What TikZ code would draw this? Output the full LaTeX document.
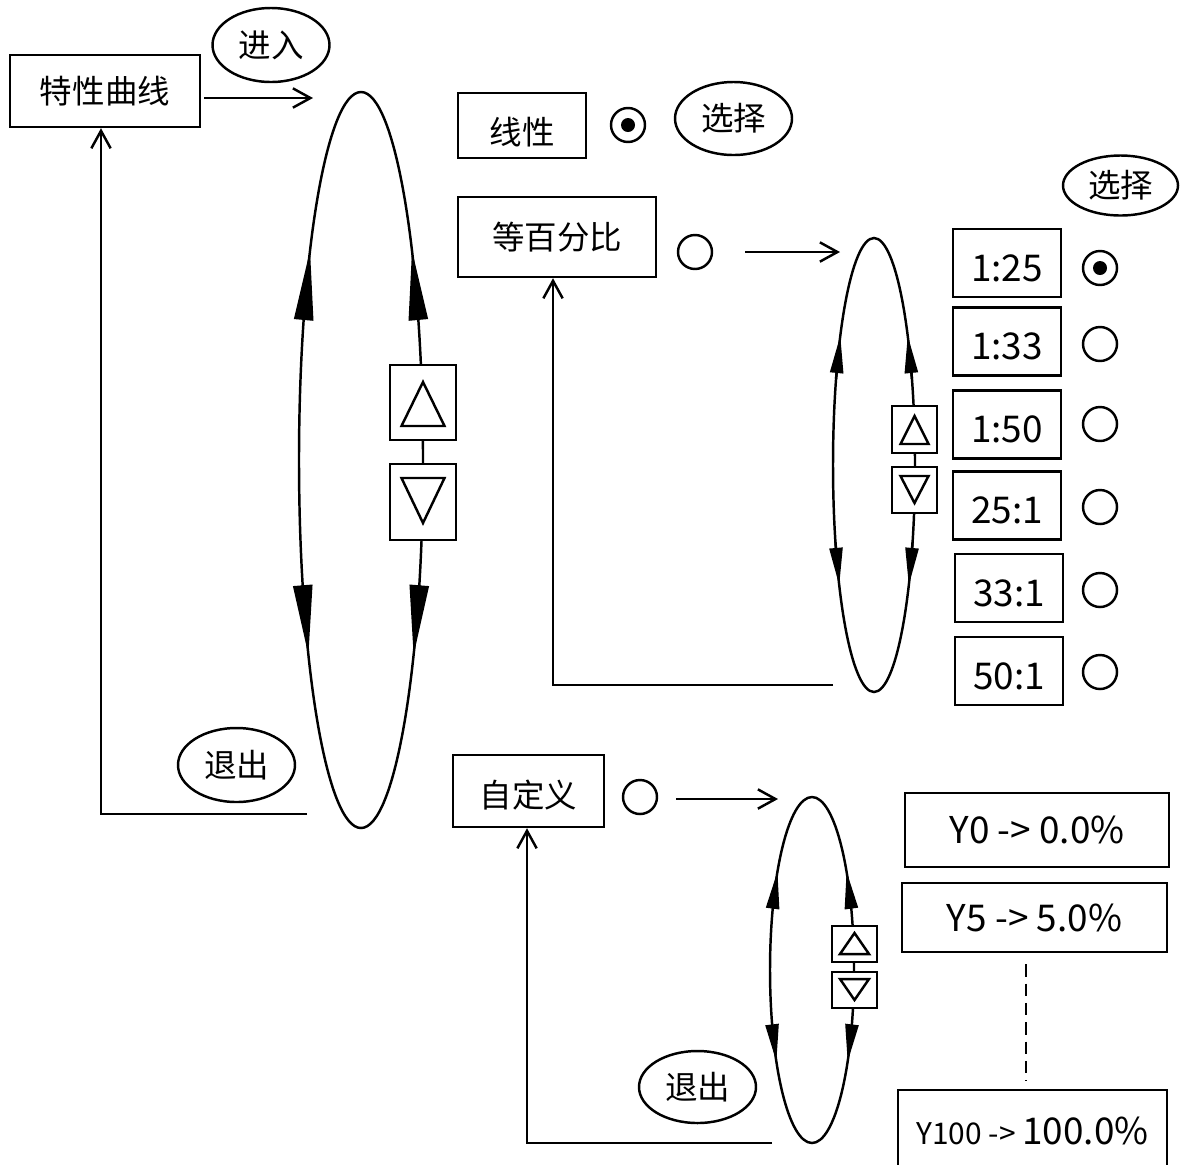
\documentclass[tikz,border=0pt]{standalone}
\usepackage{fontspec}
\usetikzlibrary{arrows.meta,positioning,calc,shapes.geometric}
\newfontfamily\cjk{Noto Sans CJK SC}
\newcommand{\px}{0.02cm}
% four heads on a ring: centre, x radius, y radius, tip style
\newcommand{\ringtips}[4]{%
  \draw[#4] ($(#1)+(-0.925*#2,-0.38*#3)$) -- ($(#1)+(-0.822*#2,-0.57*#3)$);
  \draw[#4] ($(#1)+(0.925*#2,-0.38*#3)$) -- ($(#1)+(0.822*#2,-0.57*#3)$);
  \draw[#4] ($(#1)+(-0.94*#2,0.34*#3)$) -- ($(#1)+(-0.848*#2,0.53*#3)$);
  \draw[#4] ($(#1)+(0.94*#2,0.34*#3)$) -- ($(#1)+(0.848*#2,0.53*#3)$);}
% triangle in a key: key, apex offset, base offset, half width
\newcommand{\keymark}[4]{%
  \draw ($(#1)+(0,#2)$) -- ($(#1)+(#4,#3)$) -- ($(#1)+(-#4,#3)$) -- cycle;}

\begin{document}
\begin{tikzpicture}[x=\px, y=-\px, line width=1.4pt, font=\cjk\fontsize{18.5}{21}\selectfont]
  \tikzstyle{box}=[draw,rectangle,inner sep=0pt]
  \tikzstyle{low}=[text height=#1,text depth=0pt]
  \tikzstyle{ratio}=[box,minimum width=108*\px,minimum height=68*\px,font=\cjk\fontsize{21}{24}\selectfont,low=21pt]
  \tikzstyle{ybox}=[box,font=\cjk\fontsize{21}{24}\selectfont]
  \tikzstyle{bubble}=[draw,ellipse,minimum width=117*\px,minimum height=74*\px,inner sep=0pt]
  \tikzstyle{radio}=[draw,circle,minimum size=34*\px,inner sep=0pt]
  \tikzstyle{key}=[draw,fill=white,rectangle,inner sep=0pt]
  \tikzstyle{go}=[-{Straight Barb[length=10pt,width=11pt]}]
  \tikzstyle{bigtip}=[-{Triangle[length=1.4cm,width=0.38cm]}]
  \tikzstyle{smalltip}=[-{Triangle[length=0.75cm,width=0.26cm]}]
  \clip (0,0) rectangle (1182,1164);

  % top level
  \node[box,minimum width=190*\px,minimum height=72*\px] (curve) at (105,91) {特性曲线};
  \node[bubble] (enter) at (271,45) {进入};
  \coordinate (inA) at (313,98);
  \draw[go] ($(curve.east)+(3,7)$) -- (inA);

  \coordinate (ringA) at (361,460);
  \draw (ringA) ellipse [x radius=62, y radius=368];
  \ringtips{ringA}{62}{368}{bigtip}
  \node[key,minimum width=66*\px,minimum height=75*\px] (upA) at (423,402.5) {};
  \node[key,minimum width=66*\px,minimum height=76*\px] (dnA) at (423,502) {};
  \keymark{upA}{-20.5}{23.5}{21.5}
  \keymark{dnA}{21}{-24}{21.5}

  \node[bubble] (quitA) at (236.5,765) {退出};
  \coordinate (outA) at (307,814);
  \draw[go] (outA) -| ($(curve.south)+(-4,0)$);

  % curve types
  \node[box,minimum width=128*\px,minimum height=65*\px,low=22pt] (linear) at (522,125.5) {线性};
  \node[radio] (rdA) at (628,125) {};
  \fill (rdA.center) circle[radius=7];
  \node[bubble,minimum height=73*\px] (pickA) at (733.5,118.5) {选择};

  \node[box,minimum width=198*\px,minimum height=80*\px] (equal) at (557,237) {等百分比};
  \node[radio] (rdB) at (695,252) {};
  \coordinate (inB) at (840,252);
  \draw[go] ($(rdB.east)+(32,0)$) -- (inB);

  \node[box,minimum width=151*\px,minimum height=72*\px,low=19pt] (custom) at (528.5,791) {自定义};
  \node[radio] (rdC) at (640,797) {};
  \coordinate (inC) at (778,799);
  \draw[go] ($(rdC.east)+(18,2)$) -- (inC);

  % ratio ring
  \coordinate (ringB) at (874,465);
  \draw (ringB) ellipse [x radius=41, y radius=227];
  \ringtips{ringB}{41}{227}{smalltip}
  \node[key,minimum width=45*\px,minimum height=47*\px] (upB) at (914.5,429.5) {};
  \node[key,minimum width=45*\px,minimum height=46*\px] (dnB) at (914.5,490) {};
  \keymark{upB}{-13.5}{14.5}{14}
  \keymark{dnB}{13}{-14}{14}
  \coordinate (outB) at (833,685);
  \draw[go] (outB) -| ($(equal.south)+(-4,0)$);

  \node[bubble,minimum width=115*\px,minimum height=60*\px] (pickB) at (1120.5,185.5) {选择};
  \node[ratio] (r1) at (1007,263) {1:25};
  \node[ratio] (r2) at (1007,341.5) {1:33};
  \node[ratio] (r3) at (1007,424.5) {1:50};
  \node[ratio] (r4) at (1007,505.5) {25:1};
  \node[ratio] (r5) at (1009,588) {33:1};
  \node[ratio] (r6) at (1009,671) {50:1};
  \node[radio] (c1) at (1100,268) {};
  \fill (c1.center) circle[radius=7];
  \node[radio] (c2) at (1100,344) {};
  \node[radio] (c3) at (1100,424) {};
  \node[radio] (c4) at (1100,507) {};
  \node[radio] (c5) at (1100,590) {};
  \node[radio] (c6) at (1100,672) {};

  % custom ring
  \coordinate (ringC) at (812,970);
  \draw (ringC) ellipse [x radius=42, y radius=173];
  \ringtips{ringC}{42}{173}{smalltip}
  \node[key,minimum width=45*\px,minimum height=36*\px] (upC) at (854.5,944) {};
  \node[key,minimum width=45*\px,minimum height=36*\px] (dnC) at (854.5,990) {};
  \keymark{upC}{-11}{10}{14.5}
  \keymark{dnC}{10}{-11}{14.5}
  \node[bubble,minimum height=72*\px] (quitB) at (697.5,1087) {退出};
  \coordinate (outC) at (772,1143);
  \draw[go] (outC) -| ($(custom.south)+(-1.5,0)$);

  \node[ybox,minimum width=264*\px,minimum height=74*\px] (y0) at (1037,830) {Y0 -> 0.0\%};
  \node[ybox,minimum width=265*\px,minimum height=69*\px] (y5) at (1034.5,917.5) {Y5 -> 5.0\%};
  \node[ybox,minimum width=269*\px,minimum height=82*\px] (y100) at (1032.5,1131) {{\fontsize{17}{20}\selectfont Y100 -> }100.0\%};
  \draw[dash pattern=on 7pt off 4pt] ($(y5.south)+(-8.5,11)$) -- ($(y100.north)+(-6.5,-8)$);
\end{tikzpicture}
\end{document}
